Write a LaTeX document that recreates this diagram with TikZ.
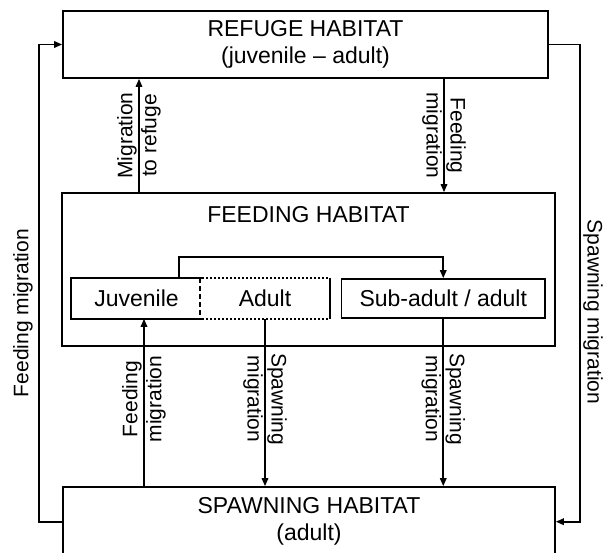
\documentclass[tikz,border=0pt]{standalone}
\usepackage{fontspec}
\setmainfont{Liberation Sans}
\usetikzlibrary{arrows.meta}
\begin{document}
\begin{tikzpicture}[x=1pt,y=-1pt,
  line width=1.6pt,
  boxtext/.style={inner sep=0pt, align=center, font=\fontsize{23}{27}\selectfont},
  box/.style={boxtext, draw, line width=1.7pt},
  lbl/.style={inner sep=0pt, align=center, font=\fontsize{21}{24}\selectfont},
  arr/.style={line width=1.6pt, -{Triangle[length=8pt,width=6.5pt]}},
  finedash/.style={line width=1.6pt, dash pattern=on 2.5pt off 1.5pt},
  longdash/.style={line width=1.6pt, dash pattern=on 5pt off 3pt}
]
\useasboundingbox (0,0) rectangle (603,553);
\clip (0,0) rectangle (603,553);

% main boxes
\node[box, minimum width=485pt, minimum height=67pt] (ref) at (305.5,44.5) {REFUGE HABITAT\\(juvenile – adult)};
\node[draw, line width=1.7pt, inner sep=0pt, minimum width=493pt, minimum height=153pt] (feed) at (308.5,269.5) {};
\node[boxtext] (feedlbl) at (308.5,214.5) {FEEDING HABITAT};
\node[box, minimum width=492pt, minimum height=69.4pt] (spawn) at (309,521.7) {SPAWNING HABITAT\\(adult)};

% inner boxes
\node[boxtext, minimum width=129pt, minimum height=39pt] (juv) at (136.5,298.5) {Juvenile};
\node[boxtext, minimum width=128pt, minimum height=39pt] (adu) at (265,298.5) {Adult};
\node[box, minimum width=203.5pt, minimum height=39pt] (sub) at (443.25,298.5) {Sub-adult / adult};
\draw[line width=1.7pt] (juv.north east) -- (juv.north west) -- (juv.south west) -- (juv.south east);
\draw[finedash] (juv.north east) -- (adu.north east);
\draw[finedash] (juv.south east) -- (adu.south east);
\draw[longdash] (adu.north west) -- (adu.south west);
\draw[line width=1.7pt] (adu.north east) -- (adu.south east);

% coordinates for vertical connectors
\coordinate (a1) at (139,0);
\coordinate (a2) at (444,0);
\coordinate (a3) at (144,0);
\coordinate (b1) at (179,257);

% outer loops
\draw[arr] (spawn.west) -- ++(-23,0) |- (ref.west);
\draw[arr] (ref.east) -- ++(31,0) |- (spawn.east);
\node[lbl, rotate=90] (lfeed) at (23,313) {Feeding migration};
\node[lbl, rotate=-90] (lspawn) at (593,312) {Spawning migration};

% refuge <-> feeding
\draw[arr] (a1 |- feed.north) -- node[lbl, rotate=90] (l1) {Migration\\to refuge} (a1 |- ref.south);
\draw[arr] (a2 |- ref.south) -- node[lbl, rotate=-90] (l2) {Feeding\\migration} (a2 |- feed.north);

% within feeding
\draw[arr] (b1 |- juv.north) -- (b1) -| (sub.north);

% feeding <-> spawning
\draw[arr] (a3 |- spawn.north) -- node[lbl, rotate=90, pos=0.52] (l3) {Feeding\\migration} (a3 |- juv.south);
\draw[arr] (adu.south) -- node[lbl, rotate=-90, pos=0.48] (l4) {Spawning\\migration} (adu.south |- spawn.north);
\draw[arr] (sub.south) -- node[lbl, rotate=-90, pos=0.48] (l5) {Spawning\\migration} (sub.south |- spawn.north);
\end{tikzpicture}
\end{document}
